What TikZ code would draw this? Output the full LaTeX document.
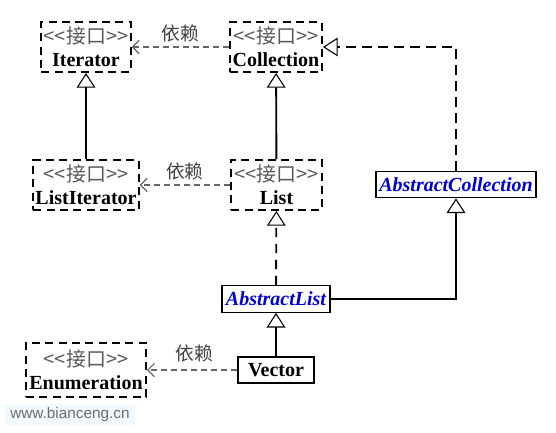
\documentclass[tikz,border=0pt]{standalone}
\usepackage{fontspec}
\setmainfont{Liberation Serif}
\setsansfont{Liberation Sans}
\newfontfamily\cjk{Noto Sans CJK SC}
\usetikzlibrary{calc}
\usetikzlibrary{arrows.meta}
\begin{document}
\begin{tikzpicture}[x=0.75pt, y=-0.75pt]
            \tikzstyle{iface} = [draw=black, line width=1.5pt, dash pattern=on 6pt off 4pt, align=center, inner sep=1pt, font=\fontsize{15}{17}\selectfont\bfseries]
            \tikzstyle{abstract} = [draw=black, line width=0.8pt, minimum height=20pt, inner sep=2pt, text=blue!85!black, font=\fontsize{15}{17}\selectfont\bfseries\itshape]
            \tikzstyle{concrete} = [draw=black, line width=1.6pt, minimum height=19pt, inner sep=2pt, font=\fontsize{15}{17}\selectfont\bfseries]
            \tikzstyle{realize} = [line width=1.4pt, -{Triangle[open, length=11pt, width=14pt, line width=0.8pt, fill=white]}]
            \tikzstyle{depend} = [gray!80!black, line width=1.1pt, dash pattern=on 4.5pt off 3pt, -{Straight Barb[length=5pt, width=10pt, line width=0.9pt]}]
            \tikzstyle{deplabel} = [above, text=gray!50!black, font=\cjk\fontsize{14}{16}\selectfont]
            \newcommand{\stereo}{{\color{gray!70!black}\cjk\mdseries\fontsize{15}{17}\selectfont<<接口>>}}
            \useasboundingbox (0, 0) rectangle (556, 432);
            \node[iface, minimum width=67pt, minimum height=37.5pt] (iterator) at (86, 47) {\stereo\\Iterator};
            \node[iface, minimum width=69pt, minimum height=37.5pt] (collection) at (276, 47) {\stereo\\Collection};
            \node[iface, minimum width=79pt, minimum height=37.5pt] (listiter) at (86, 185) {\stereo\\ListIterator};
            \node[iface, minimum width=68pt, minimum height=37.5pt] (list) at (276.5, 185) {\stereo\\List};
            \node[iface, minimum width=90pt, minimum height=40.5pt] (enumeration) at (86, 370) {\stereo\\Enumeration};
            \node[abstract, minimum width=120pt] (abscoll) at (456, 184.5) {AbstractCollection};
            \node[abstract, minimum width=81pt] (abslist) at (276, 299) {AbstractList};
            \node[concrete, minimum width=57pt] (vector) at (276, 370) {Vector};
            \draw[depend] (collection) -- node[deplabel] {依赖} (iterator);
            \draw[depend] (list) -- node[deplabel] {依赖} (listiter);
            \draw[depend] (vector) -- node[deplabel, xshift=2pt, yshift=2pt] {依赖} (enumeration);
            \draw[realize] (listiter) -- (iterator);
            \draw[realize] (list) -- (collection);
            \draw[realize, dash pattern=on 7pt off 5pt] (abslist) -- (list);
            \draw[realize] (vector) -- (abslist);
            \draw[realize] (abslist.east) -| (abscoll.south);
            \draw[realize, dash pattern=on 7pt off 5pt] (abscoll.north) |- (collection.east);
            \node[fill=cyan!6, text=gray!85!black, minimum width=97.5pt, minimum height=15pt, inner sep=0pt, font=\sffamily\fontsize{11.5}{13}\selectfont] (site) at (70, 415) {www.bianceng.cn};
        \end{tikzpicture}
\end{document}
